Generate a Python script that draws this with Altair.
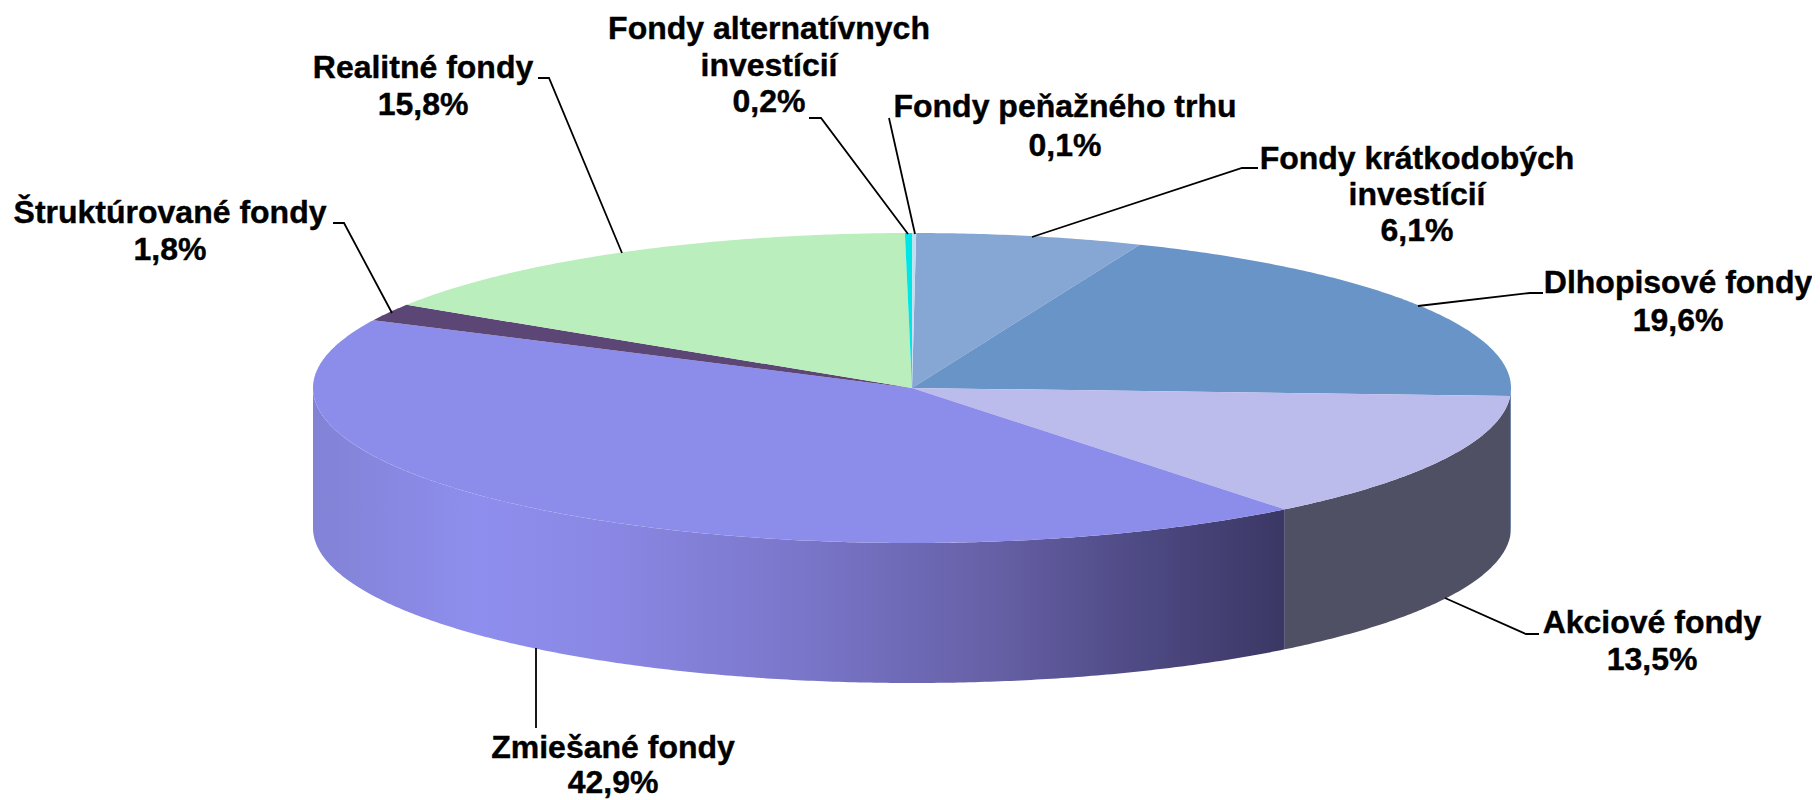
import math
import altair as alt
import pandas as pd

# --- data -------------------------------------------------------------------
names = ["Fondy krátkodobých investícií", "Dlhopisové fondy", "Akciové fondy", "Zmiešané fondy",
         "Štruktúrované fondy", "Realitné fondy", "Fondy alternatívnych investícií", "Fondy peňažného trhu"]
values = [6.1, 19.6, 13.5, 42.9, 1.8, 15.8, 0.2, 0.1]
top_colors = ["#86A6D3", "#6894C8", "#BBBCEC", "#8C8CEB", "#5C4675", "#BBEEBD", "#00E5E5", "#C6DCEE"]
label_lines = [["Fondy krátkodobých", "investícií"], ["Dlhopisové fondy"], ["Akciové fondy"], ["Zmiešané fondy"],
               ["Štruktúrované fondy"], ["Realitné fondy"], ["Fondy alternatívnych", "investícií"],
               ["Fondy peňažného trhu"]]

# --- layout (page pixels) ---------------------------------------------------
W, H = 1804, 792
OFF = 8
CX, CY, RX, RY, DEPTH, ROT = 912, 388, 599, 155, 140, 0.4
label_pos = [(1417, 159, 36), (1678, 283, 38), (1652, 623, 37), (613, 748, 35),
             (170, 213, 37), (423, 68, 37), (769, 29, 36.5), (1065, 107, 39)]
leaders = [[(1032, 237), (1242, 168), (1258, 168)],
           [(1418, 306), (1530, 293), (1543, 293)],
           [(1445, 598), (1526, 634), (1539, 634)],
           [(536, 648), (536, 728)],
           [(392, 313), (344, 223), (333, 223)],
           [(622, 253), (549, 78), (538, 78)],
           [(908, 234), (821, 118), (809, 118)],
           [(915, 234), (889, 118)]]
side_colors = {1: "#5A7CA8", 2: "#505064"}
mixed_stops = [(0.0, "#8282D6"), (0.17, "#8E8EEE"), (0.3, "#8A88E4"), (0.5, "#7A76CA"),
               (0.7, "#6660A6"), (0.85, "#4E4A84"), (1.0, "#3B3764")]

# --- geometry derived from the values ---------------------------------------
def pt(deg, dy=0.0):
    a = math.radians(deg)
    return [CX + RX * math.sin(a), CY - RY * math.cos(a) + dy]

def arc(a0, a1, dy=0.0):
    n = max(2, int(abs(a1 - a0) / 0.5) + 1)
    return [pt(a0 + (a1 - a0) * i / n, dy) for i in range(n + 1)]

bounds = [0.0]
for v in values:
    bounds.append(bounds[-1] + v * 3.6)
scale_total = 360.0 / bounds[-1]
bounds = [b * scale_total + ROT for b in bounds]

def feature(name, ring):
    ring = ring + [ring[0]]
    return {"type": "Feature", "properties": {"name": name},
            "geometry": {"type": "Polygon", "coordinates": [ring]}}

proj = dict(type="identity", scale=1, translate=[-OFF, -OFF])

layers = []
# side wall
for i, (a0, a1) in enumerate(zip(bounds[:-1], bounds[1:])):
    s, e = max(a0, 90), min(a1, 270)
    if e <= s:
        continue
    ring = arc(s, e) + arc(e, s, DEPTH)
    if names[i] == "Zmiešané fondy":
        fill = alt.LinearGradient(gradient="linear", x1=0, x2=1, y1=0, y2=0,
                                  stops=[alt.GradientStop(offset=o, color=c) for o, c in mixed_stops])
    else:
        fill = side_colors[i]
    layers.append(alt.Chart(alt.Data(values=[feature(names[i], ring)]))
                  .mark_geoshape(fill=fill, stroke=None, strokeWidth=0).project(**proj))

# top face
top_features = [feature(n, [[CX, CY]] + arc(a0, a1))
                for n, a0, a1 in zip(names, bounds[:-1], bounds[1:])]
layers.append(alt.Chart(alt.Data(values=top_features))
              .mark_geoshape(strokeWidth=0)
              .encode(color=alt.Color("properties.name:N", legend=None,
                                      scale=alt.Scale(domain=names, range=top_colors)))
              .project(**proj))

xs = alt.Scale(domain=[OFF, OFF + W], range=[0, W])
ys = alt.Scale(domain=[OFF, OFF + H], range=[0, H])

# leader lines
rows = []
for i, pts in enumerate(leaders):
    for j, (x, y) in enumerate(pts):
        rows.append({"id": i, "ord": j, "x": x, "y": y})
layers.append(alt.Chart(pd.DataFrame(rows)).mark_line(color="#000000", strokeWidth=1.8, interpolate="linear")
              .encode(x=alt.X("x:Q", scale=xs, axis=None), y=alt.Y("y:Q", scale=ys, axis=None),
                      detail="id:N", order="ord:Q"))

# labels
rows = []
for lines, v, (x, y, lh) in zip(label_lines, values, label_pos):
    all_lines = lines + [f"{v:.1f}".replace(".", ",") + "%"]
    for k, t in enumerate(all_lines):
        rows.append({"t": t, "x": x, "y": y + k * lh})
layers.append(alt.Chart(pd.DataFrame(rows))
              .mark_text(font="Liberation Sans", fontWeight="bold", fontSize=32, color="#000000",
                         stroke="#000000", strokeWidth=0.4, align="center", baseline="middle")
              .encode(x=alt.X("x:Q", scale=xs, axis=None), y=alt.Y("y:Q", scale=ys, axis=None), text="t:N"))

chart = (alt.layer(*layers)
         .resolve_scale(color="independent")
         .properties(width=W, height=H, padding=0, autosize=alt.AutoSizeParams(type="none"), background="white")
         .configure_view(stroke=None))
chart.save("out.html", embed_options={"renderer": "svg", "actions": False})
